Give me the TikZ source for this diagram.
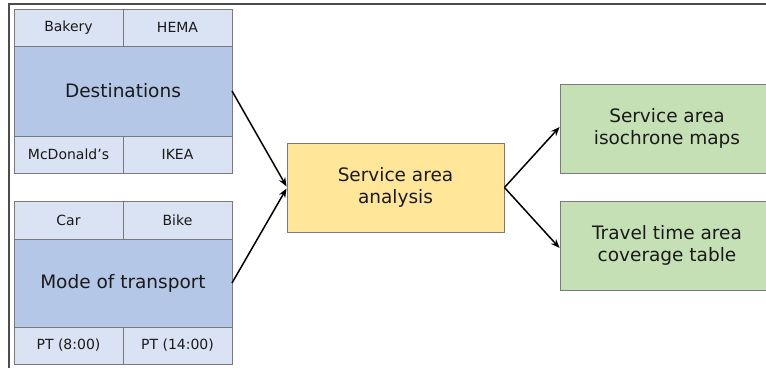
\documentclass[tikz,border=0pt]{standalone}
\usepackage{fontspec}
\setmainfont{DejaVu Sans}
\usetikzlibrary{arrows.meta}
\definecolor{cellblue}{HTML}{DAE3F3}
\definecolor{mainblue}{HTML}{B4C7E7}
\definecolor{procyellow}{HTML}{FFE699}
\definecolor{outgreen}{HTML}{C5E0B4}
\definecolor{edgegray}{HTML}{7A7A7A}
\definecolor{txt}{HTML}{1A1A1A}
\tikzset{
  px/.style={x=1pt,y=-1pt},
  cell/.style={draw=edgegray,line width=0.9pt,fill=cellblue,text=txt,font=\fontsize{14}{16}\selectfont},
  mid/.style={draw=edgegray,line width=0.9pt,fill=mainblue,text=txt,font=\fontsize{18.5}{22}\selectfont},
  proc/.style={draw=edgegray,line width=0.9pt,fill=procyellow,text=txt,align=center,font=\fontsize{18.5}{22}\selectfont},
  outbox/.style={draw=edgegray,line width=0.9pt,fill=outgreen,text=txt,align=center,font=\fontsize{18.5}{22}\selectfont},
  link/.style={-{Stealth[length=9pt,width=7pt]},line width=1.5pt,black},
}
\begin{document}
\begin{tikzpicture}[px]
\useasboundingbox (0,0) rectangle (766,367);
\clip (0,0) rectangle (766,367);
% outer frame
\draw[line width=1.2pt,black!70] (9,370) -- (9,4) -- (770,4);

% Destinations group
\draw[cell] (14,9) rectangle (123,46);
\node[cell,draw=none,fill=none] (bakery) at (68.5,27.5) {Bakery};
\draw[cell] (123,9) rectangle (232,46);
\node[cell,draw=none,fill=none] (hema) at (177.5,27.5) {HEMA};
\draw[mid] (14,46) rectangle (232,136);
\node[mid,draw=none,fill=none] (dest) at (123,91) {Destinations};
\coordinate (destE) at (232,91);
\draw[cell] (14,136) rectangle (123,173);
\node[cell,draw=none,fill=none] (mcd) at (68.5,154.5) {McDonald’s};
\draw[cell] (123,136) rectangle (232,173);
\node[cell,draw=none,fill=none] (ikea) at (177.5,154.5) {IKEA};

% Mode of transport group
\draw[cell] (14,201) rectangle (123,239);
\node[cell,draw=none,fill=none] (car) at (68.5,220) {Car};
\draw[cell] (123,201) rectangle (232,239);
\node[cell,draw=none,fill=none] (bike) at (177.5,220) {Bike};
\draw[mid] (14,239) rectangle (232,327);
\node[mid,draw=none,fill=none] (mode) at (123,283) {Mode of transport};
\coordinate (modeE) at (232,283);
\draw[cell] (14,327) rectangle (123,364);
\node[cell,draw=none,fill=none] (pt8) at (68.5,345.5) {PT (8:00)};
\draw[cell] (123,327) rectangle (232,364);
\node[cell,draw=none,fill=none] (pt14) at (177.5,345.5) {PT (14:00)};

% analysis
\node[proc,minimum width=217pt,minimum height=89pt] (analysis) at (395.5,187.5) {Service area\\analysis};

% outputs (their right ends run past the frame)
\node[outbox,minimum width=214pt,minimum height=89pt] (maps) at (667,128.5) {Service area\\isochrone maps};
\node[outbox,minimum width=214pt,minimum height=89pt] (table) at (667,245.5) {Travel time area\\coverage table};

% connectors
\draw[link] (destE) -- ([yshift=1pt]analysis.west);
\draw[link] (modeE) -- ([yshift=-1pt]analysis.west);
\draw[link] (analysis.east) -- ([yshift=1.5pt]maps.west);
\draw[link] (analysis.east) -- ([yshift=-2.5pt]table.west);
\end{tikzpicture}
\end{document}
